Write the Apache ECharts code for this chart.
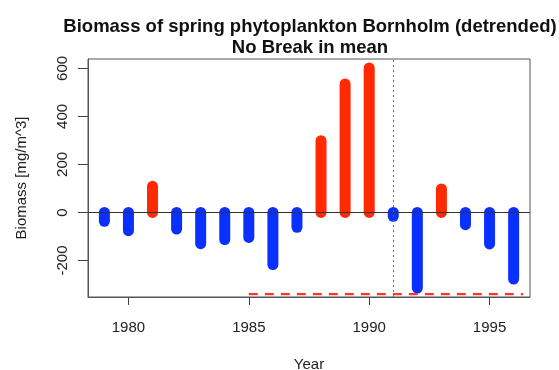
<!DOCTYPE html>
<html><head><meta charset="utf-8">
<script src="https://cdn.jsdelivr.net/npm/echarts@6/dist/echarts.min.js"></script>
<style>html,body{margin:0;padding:0;background:#fff}#c{width:559px;height:370px}</style>
</head><body><div id="c"></div>
<script>
const years = [1979,1980,1981,1982,1983,1984,1985,1986,1987,1988,1989,1990,1991,1992,1993,1994,1995,1996];
const biomass = [-37,-76,109,-69,-130,-113,-104,-217,-62,299,535,602,-16,-315,98,-51,-131,-277];
const xTicks = [1980,1985,1990,1995];
const yTicks = [-200,0,200,400,600];
const breakYear = 1991;
const meanLine = [[1985,-340],[1996.4,-340]];

const font = '"Liberation Sans", Arial, sans-serif';
const chart = echarts.init(document.getElementById('c'), null, {renderer:'canvas'});
chart.setOption({
  animation:false,
  backgroundColor:'#fff',
  title:{
    text:'Biomass of spring phytoplankton Bornholm (detrended)\nNo Break in mean',
    left:305, top:11, textAlign:'center',
    textStyle:{fontFamily:font,fontWeight:'bold',fontSize:18.5,color:'#111',lineHeight:21}
  },
  grid:{left:88,top:59,right:29,bottom:73,containLabel:false,outerBoundsMode:'none',show:true,borderColor:'#555',borderWidth:1,backgroundColor:'transparent'},
  xAxis:{
    type:'value', min:1978.32, max:1996.68,
    name:'Year', nameLocation:'middle', nameGap:60,
    nameTextStyle:{fontFamily:font,fontSize:15,color:'#222'},
    axisLine:{show:true,onZero:false,lineStyle:{color:'#555'}},
    axisTick:{show:true,inside:false,length:8,lineStyle:{color:'#444',width:1},customValues:xTicks},
    axisLabel:{fontFamily:font,fontSize:15,color:'#222',margin:23,customValues:xTicks,formatter:v=>String(v)},
    splitLine:{show:false}
  },
  yAxis:{
    type:'value', min:-352, max:639,
    name:'Biomass [mg/m^3]', nameLocation:'middle', nameGap:59, nameRotate:90,
    nameTextStyle:{fontFamily:font,fontSize:15,color:'#222'},
    axisLine:{show:true,onZero:false,lineStyle:{color:'#555'}},
    axisTick:{show:true,inside:false,length:10,lineStyle:{color:'#444',width:1},customValues:yTicks},
    axisLabel:{fontFamily:font,fontSize:15,color:'#222',rotate:90,margin:25,customValues:yTicks,verticalAlign:'middle',align:'center'},
    splitLine:{show:false}
  },
  series:[
    {
      type:'custom',
      data: years.map((y,i)=>[y,biomass[i]]),
      clip:true,
      renderItem:function(params, api){
        const x = api.value(0), v = api.value(1);
        const p0 = api.coord([x,0]), p1 = api.coord([x,v]);
        return {type:'line', shape:{x1:p0[0],y1:p0[1],x2:p1[0],y2:p1[1]},
          style:{stroke: v>=0 ? '#ff2a00' : '#0a30ff', lineWidth:11, lineCap:'round'}};
      },
      z:3
    },
    {
      type:'line', data:meanLine, symbol:'none', z:4,
      lineStyle:{color:'#ff3636',width:2.2,type:[9,7]}
    },
    {
      type:'line', data:[], symbol:'none', z:2,
      markLine:{silent:true,symbol:'none',label:{show:false},
        data:[
          {yAxis:0, lineStyle:{color:'#333',width:1,type:'solid'}},
          {xAxis:breakYear, lineStyle:{color:'#6a6a9a',width:1,type:[2,3]}}
        ]}
    }
  ]
});
</script></body></html>
